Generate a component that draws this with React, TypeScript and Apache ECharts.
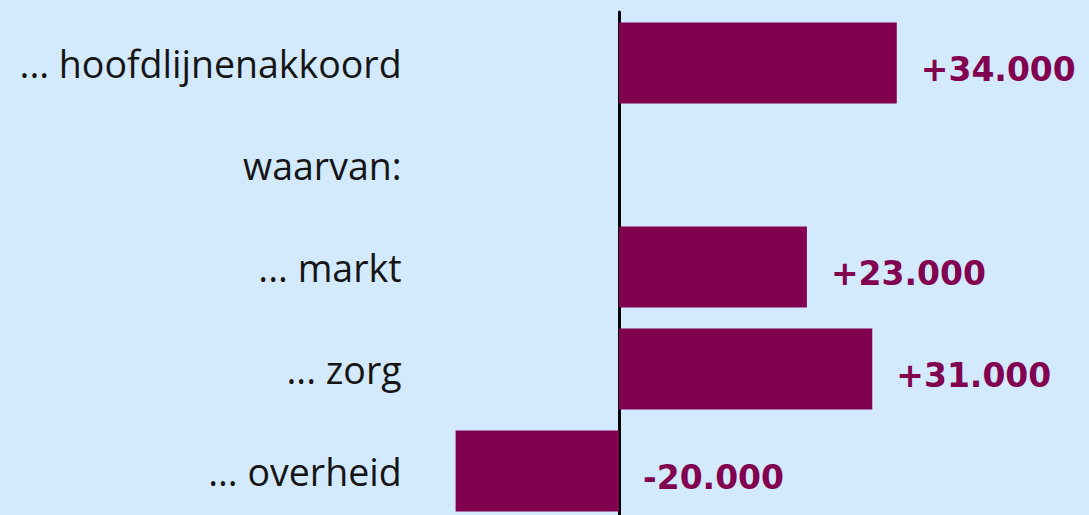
import React, { useEffect, useRef } from "react";
import * as echarts from "echarts";

const categories = ["... hoofdlijnenakkoord", "waarvan:", "... markt", "... zorg", "... overheid"];
const values: (number | string)[] = [34000, "-", 23000, 31000, -20000];

const BAR = "#820050";
const BG = "#d3e9fd";

function fmt(v: number): string {
  const s = Math.abs(v).toString().replace(/\B(?=(\d{3})+(?!\d))/g, ".");
  return (v > 0 ? "+" : "-") + s;
}

export default function App() {
  const ref = useRef<HTMLDivElement>(null);
  useEffect(() => {
    document.body.style.margin = "0";
    const chart = echarts.init(ref.current!, undefined, { renderer: "svg" });
    chart.setOption({
      animation: false,
      backgroundColor: BG,
      grid: { left: 455.6, top: 12, width: 490.2, height: 510, containLabel: false, outerBoundsMode: "none" },
      xAxis: {
        type: "value",
        min: -20000,
        max: 40000,
        show: false,
      },
      yAxis: {
        type: "category",
        data: categories,
        inverse: true,
        axisTick: { show: false },
        axisLine: { show: true, onZero: true, lineStyle: { color: "#000", width: 3 } },
        axisLabel: {
          margin: 54,
          color: "#151515",
          fontFamily: "Open Sans",
          fontSize: 37.5,
          padding: [5, 0, 0, 0],
        },
        splitLine: { show: false },
        z: 1,
      },
      series: [
        {
          type: "bar",
          data: values,
          barWidth: 81,
          itemStyle: { color: BAR },
          z: 3,
          label: {
            show: true,
            position: "right",
            distance: 23,
            color: BAR,
            fontFamily: "DejaVu Sans",
            fontWeight: "bold",
            fontSize: 33,
            offset: [1, 6],
            formatter: (p: any) => fmt(p.value as number),
          },
        },
      ],
    });
    return () => chart.dispose();
  }, []);
  return <div ref={ref} style={{ position: "fixed", left: 0, top: 0, width: 1089, height: 515 }} />;
}
